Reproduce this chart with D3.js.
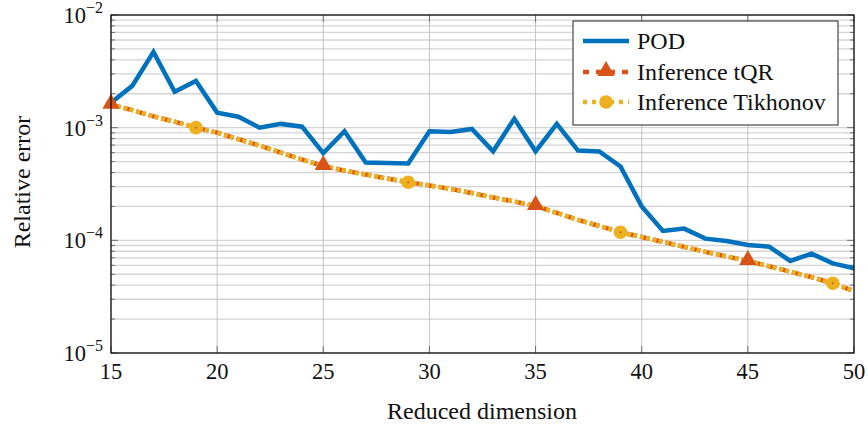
<!DOCTYPE html>
<html><head><meta charset="utf-8">
<script src="https://cdn.jsdelivr.net/npm/d3@7"></script>
<style>body{margin:0;background:#fff}svg{display:block}</style>
</head><body><svg id="c" width="868" height="430" font-family="'Liberation Serif', 'Times New Roman', 'DejaVu Serif', serif"></svg>
<script>
const dims = [15,16,17,18,19,20,21,22,23,24,25,26,27,28,29,30,31,32,33,34,35,36,37,38,39,40,41,42,43,44,45,46,47,48,49,50];
const pod = [1.66e-3,2.35e-3,4.7e-3,2.08e-3,2.6e-3,1.36e-3,1.25e-3,1.0e-3,1.08e-3,1.02e-3,5.95e-4,9.3e-4,4.9e-4,4.85e-4,4.8e-4,9.3e-4,9.16e-4,9.75e-4,6.17e-4,1.2e-3,6.17e-4,1.08e-3,6.26e-4,6.14e-4,4.52e-4,2.0e-4,1.21e-4,1.27e-4,1.035e-4,9.86e-5,9.08e-5,8.79e-5,6.56e-5,7.62e-5,6.25e-5,5.65e-5];
const tqr = [1.6e-3,1.43e-3,1.26e-3,1.13e-3,1.0e-3,9.03e-4,7.9e-4,6.93e-4,6.01e-4,5.21e-4,4.56e-4,4.16e-4,3.84e-4,3.54e-4,3.28e-4,3.07e-4,2.86e-4,2.63e-4,2.4e-4,2.21e-4,2.02e-4,1.75e-4,1.52e-4,1.34e-4,1.18e-4,1.07e-4,9.7e-5,8.75e-5,7.9e-5,7.2e-5,6.56e-5,5.89e-5,5.26e-5,4.71e-5,4.16e-5,3.54e-5];
const tikhonov = [1.6e-3,1.43e-3,1.26e-3,1.13e-3,1.0e-3,9.03e-4,7.9e-4,6.93e-4,6.01e-4,5.21e-4,4.56e-4,4.16e-4,3.84e-4,3.54e-4,3.28e-4,3.07e-4,2.86e-4,2.63e-4,2.4e-4,2.21e-4,2.02e-4,1.75e-4,1.52e-4,1.34e-4,1.18e-4,1.07e-4,9.7e-5,8.75e-5,7.9e-5,7.2e-5,6.56e-5,5.89e-5,5.26e-5,4.71e-5,4.16e-5,3.54e-5];
const tqrMarkers = [15,25,35,45];
const tikMarkers = [19,29,39,49];
const xTicks = [15,20,25,30,35,40,45,50];
const yDecades = [-5,-4,-3,-2];
const seriesNames = ["POD","Inference tQR","Inference Tikhonov"];

const FONT="'Liberation Serif', 'Times New Roman', 'DejaVu Serif', serif";
const L=111,R=854,T=15,B=353;
const svg=d3.select("#c");
const x=d3.scaleLinear().domain([15,50]).range([L,R]);
const y=d3.scaleLog().domain([1e-5,1e-2]).range([B,T]);

const minor=[];
for(let e=-5;e<-2;e++) for(let k=1;k<10;k++) minor.push(k*Math.pow(10,e));
minor.push(1e-2);
const isMajor=d=>Math.abs(Math.log10(d)-Math.round(Math.log10(d)))<1e-9;
const g=svg.append("g");
g.selectAll(".hg").data(minor).join("line").attr("x1",L).attr("x2",R)
 .attr("y1",d=>y(d)).attr("y2",d=>y(d)).attr("stroke","#d4d4d4").attr("stroke-width",1.3);
g.selectAll(".vg").data(xTicks).join("line").attr("y1",T).attr("y2",B)
 .attr("x1",d=>x(d)).attr("x2",d=>x(d)).attr("stroke","#c4c4c4").attr("stroke-width",1);
g.selectAll(".tl").data(minor).join("line").attr("x1",L).attr("x2",d=>L+(isMajor(d)?7:4))
 .attr("y1",d=>y(d)).attr("y2",d=>y(d)).attr("stroke","#555").attr("stroke-width",0.8);
g.selectAll(".tr").data(minor).join("line").attr("x1",R).attr("x2",d=>R-(isMajor(d)?7:4))
 .attr("y1",d=>y(d)).attr("y2",d=>y(d)).attr("stroke","#555").attr("stroke-width",0.8);
g.selectAll(".tb").data(xTicks).join("line").attr("y1",B).attr("y2",B-7)
 .attr("x1",d=>x(d)).attr("x2",d=>x(d)).attr("stroke","#555").attr("stroke-width",0.8);
g.selectAll(".tt").data(xTicks).join("line").attr("y1",T).attr("y2",T+7)
 .attr("x1",d=>x(d)).attr("x2",d=>x(d)).attr("stroke","#555").attr("stroke-width",0.8);

const line=d3.line().x((d,i)=>x(dims[i])).y(d=>y(d));
const plot=svg.append("g");
plot.append("path").datum(pod).attr("d",line).attr("fill","none").attr("stroke","#0072BD").attr("stroke-width",4.5).attr("stroke-linejoin","miter");
plot.append("path").datum(tqr).attr("d",line).attr("fill","none").attr("stroke","#D95319").attr("stroke-width",4.5).attr("stroke-dasharray","10,3");
plot.append("path").datum(tikhonov).attr("d",line).attr("fill","none").attr("stroke","#EDB120").attr("stroke-width",4.5).attr("stroke-dasharray","4,2,4,3");
const tri=d3.symbol().type(d3.symbolTriangle).size(130);
plot.selectAll(".tm").data(tqrMarkers).join("path").attr("d",tri)
 .attr("transform",d=>`translate(${x(d)},${y(tqr[dims.indexOf(d)])-1})`).attr("fill","#D95319");
plot.selectAll(".cm").data(tikMarkers).join("circle").attr("cx",d=>x(d)).attr("cy",d=>y(tikhonov[dims.indexOf(d)]))
 .attr("r",6.8).attr("fill","#EDB120");
plot.selectAll(".cd").data(tikMarkers).join("circle").attr("cx",d=>x(d)).attr("cy",d=>y(tikhonov[dims.indexOf(d)]))
 .attr("r",1).attr("fill","#D95319");

svg.append("rect").attr("x",L).attr("y",T).attr("width",R-L).attr("height",B-T).attr("fill","none").attr("stroke","#111").attr("stroke-width",1.3);

svg.selectAll(".xl").data(xTicks).join("text").attr("font-family",FONT).attr("fill","#111").attr("x",d=>x(d)).attr("y",379).attr("text-anchor","middle").attr("font-size",22.5).text(d=>d);
const yl=svg.selectAll(".yl").data(yDecades).join("text").attr("font-family",FONT).attr("fill","#111").attr("x",103).attr("y",d=>y(Math.pow(10,d))+8).attr("text-anchor","end").attr("font-size",22.5);
yl.append("tspan").text("10");
yl.append("tspan").attr("dy",-10).attr("font-size",16).text(d=>"\u2212"+Math.abs(d));

svg.append("text").attr("font-family",FONT).attr("fill","#111").attr("x",482).attr("y",419).attr("text-anchor","middle").attr("font-size",24).text("Reduced dimension");
svg.append("text").attr("font-family",FONT).attr("fill","#111").attr("transform","translate(30,182) rotate(-90)").attr("text-anchor","middle").attr("font-size",24).text("Relative error");

const lg=svg.append("g");
lg.append("rect").attr("x",573).attr("y",21).attr("width",265).attr("height",104).attr("fill","#fff").attr("stroke","#222").attr("stroke-width",1);
const rows=[41,72,102];
lg.append("line").attr("x1",583).attr("x2",629).attr("y1",rows[0]).attr("y2",rows[0]).attr("stroke","#0072BD").attr("stroke-width",4.5);
lg.append("line").attr("x1",583).attr("x2",629).attr("y1",rows[1]).attr("y2",rows[1]).attr("stroke","#D95319").attr("stroke-width",4.5).attr("stroke-dasharray","6,7");
lg.append("path").attr("d",tri).attr("transform",`translate(606,${rows[1]-1})`).attr("fill","#D95319");
lg.append("line").attr("x1",583).attr("x2",629).attr("y1",rows[2]).attr("y2",rows[2]).attr("stroke","#EDB120").attr("stroke-width",4.5).attr("stroke-dasharray","4,5");
lg.append("circle").attr("cx",606).attr("cy",rows[2]).attr("r",6.8).attr("fill","#EDB120");
lg.selectAll(".lt").data(seriesNames).join("text").attr("font-family",FONT).attr("fill","#111").attr("x",637).attr("y",(d,i)=>rows[i]+8).attr("font-size",24).text(d=>d);
</script></body></html>
